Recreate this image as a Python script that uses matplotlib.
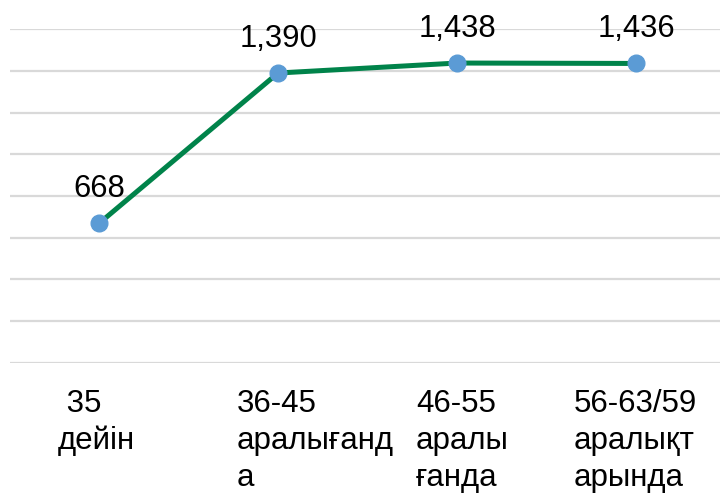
import matplotlib
matplotlib.use("Agg")
import matplotlib.pyplot as plt

categories = ["\u00a035\nдейін", "36-45\nаралығанд\nа", "46-55\nаралы\nғанда", "56-63/59\nаралықт\nарында"]
values = [668, 1390, 1438, 1436]
value_labels = ["668", "1,390", "1,438", "1,436"]
yticks = [0, 200, 400, 600, 800, 1000, 1200, 1400, 1600]

plt.rcParams['font.family'] = ['Liberation Sans', 'DejaVu Sans']

fig = plt.figure(figsize=(7.2, 4.93), dpi=100)
ax = fig.add_axes([9.5 / 720, (493 - 362.5) / 493, 716 / 720, 333.2 / 493])

x = list(range(len(values)))
ax.plot(x, values, color='#00834A', lw=3.6, zorder=3, solid_capstyle='round')
ax.plot(x, values, ls='none', marker='o', ms=12, mfc='#5B9BD5', mec='#5B9BD5', zorder=4)

for xi, v, lab in zip(x, values, value_labels):
    ax.annotate(lab, (xi, v), xytext=(0, 19), textcoords='offset points',
                ha='center', va='baseline', fontsize=22.3, color='black')

ax.set_xlim(-0.5, len(values) - 0.5)
ax.set_ylim(yticks[0], yticks[-1])
ax.set_yticks(yticks)
ax.grid(axis='y', color='#D9D9D9', lw=1.6)
ax.set_axisbelow(True)
ax.tick_params(left=False, bottom=False, labelleft=False, labelbottom=False)
for s in ax.spines.values():
    s.set_visible(False)

offsets = [-29.5, -29.5, -29.5, -45]
trans = ax.get_xaxis_transform()
for xi, lab, off in zip(x, categories, offsets):
    ax.annotate(lab, (xi, 0), xycoords=trans, xytext=(off, -19), textcoords='offset points',
                ha='left', va='top', multialignment='left', fontsize=22.5, linespacing=1.3,
                annotation_clip=False)

fig.savefig("out.png", dpi=100)
